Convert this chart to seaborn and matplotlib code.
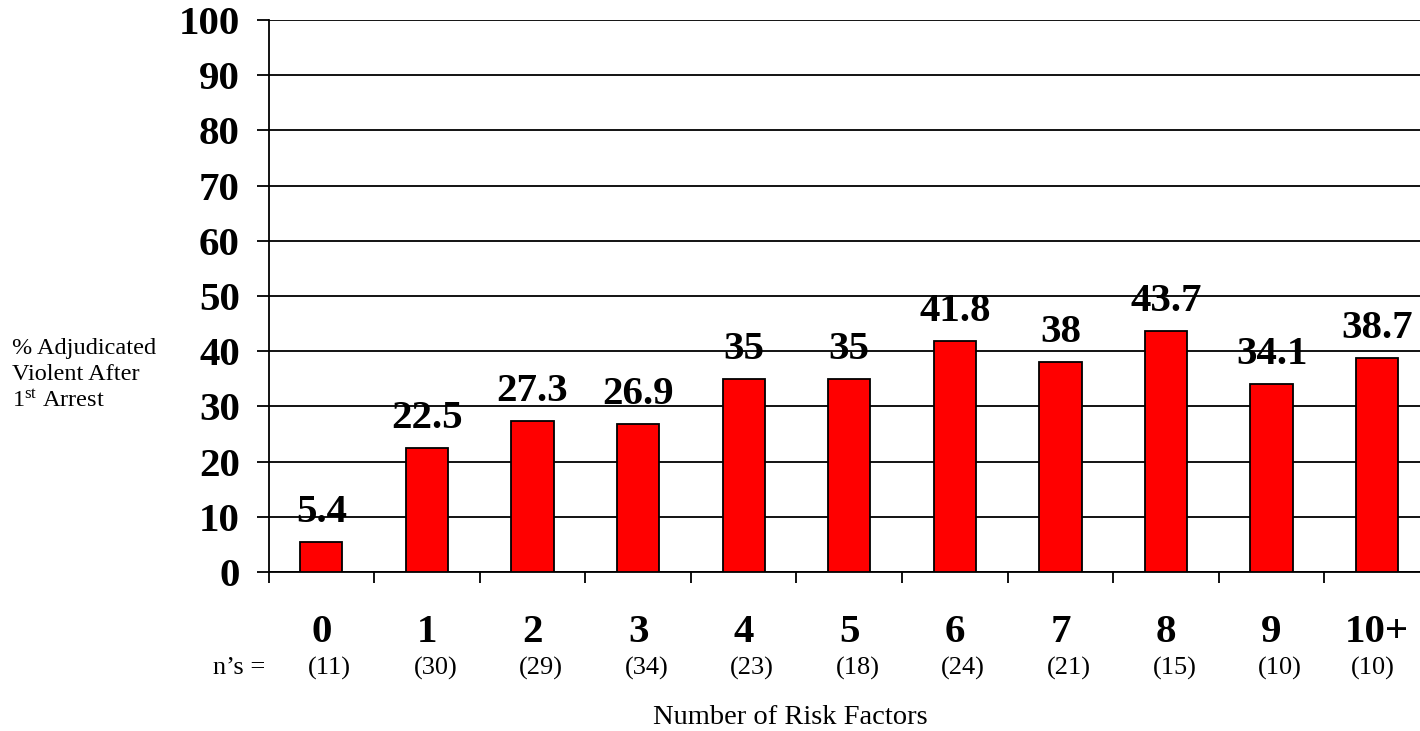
import matplotlib
matplotlib.use("Agg")
import matplotlib.pyplot as plt
import matplotlib.transforms as mtransforms
import numpy as np
import pandas as pd
import seaborn as sns

# Share of youths adjudicated violent after first arrest, by risk-factor count
risk_factors = ["0", "1", "2", "3", "4", "5", "6", "7", "8", "9", "10+"]
pct_violent = [5.4, 22.5, 27.3, 26.9, 35, 35, 41.8, 38, 43.7, 34.1, 38.7]
group_sizes = [11, 30, 29, 34, 23, 18, 24, 21, 15, 10, 10]
y_ticks = list(range(0, 101, 10))

df = pd.DataFrame({"factors": risk_factors, "pct": pct_violent})

sns.set_theme(style="white")
plt.rcParams["font.family"] = ["Liberation Serif", "DejaVu Serif"]
plt.rcParams["mathtext.fontset"] = "custom"
plt.rcParams["mathtext.rm"] = "Liberation Serif"
plt.rcParams["mathtext.it"] = "Liberation Serif:italic"
plt.rcParams["mathtext.bf"] = "Liberation Serif:bold"
plt.rcParams["text.color"] = "black"

BOLD_SIZE = 29.5
SMALL_SIZE = 19

W, H = 1420, 731
fig = plt.figure(figsize=(W / 100, H / 100), dpi=100)
fig.patch.set_facecolor("white")
ax_left, ax_right, ax_top, ax_bottom = 268.5, 1430, 20, 572
ax = fig.add_axes([ax_left / W, (H - ax_bottom) / H,
                   (ax_right - ax_left) / W, (ax_bottom - ax_top) / H])

sns.barplot(data=df, x="factors", y="pct", order=risk_factors, ax=ax,
            color="#ff0000", saturation=1, width=0.4,
            edgecolor="black", linewidth=1.3, zorder=3)

ax.set_ylim(0, 100)
ax.set_xlim(-0.5, len(risk_factors) - 0.5)
ax.set_axisbelow(True)
ax.set_yticks(y_ticks)
ax.set_yticklabels([str(t) for t in y_ticks], fontsize=BOLD_SIZE,
                   fontweight="bold")
ax.yaxis.grid(True, color="black", linewidth=1.3)
ax.xaxis.grid(False)

for side in ("top", "right"):
    ax.spines[side].set_visible(False)
for side in ("left", "bottom"):
    ax.spines[side].set_color("black")
    ax.spines[side].set_linewidth(1.3)

ax.tick_params(axis="y", which="major", direction="out", length=8.6,
               width=1.3, color="black", labelcolor="black", pad=12,
               left=True)

# category labels centred, boundary ticks between categories
ax.set_xticks(np.arange(len(risk_factors)))
ax.set_xticklabels(risk_factors, fontsize=BOLD_SIZE, fontweight="bold")
ax.set_xticks(np.arange(len(risk_factors) + 1) - 0.5, minor=True)
ax.tick_params(axis="x", which="major", length=0, pad=30, bottom=True,
               labelcolor="black")
ax.tick_params(axis="x", which="minor", direction="out", length=8,
               width=1.3, color="black", bottom=True)

# value labels above each bar
for i, v in enumerate(pct_violent):
    ax.annotate(f"{v:g}", xy=(i, v), xytext=(0, 14.4),
                textcoords="offset points", ha="center", va="baseline",
                fontsize=BOLD_SIZE, fontweight="bold", color="black")

# group sizes under the category labels
blend = mtransforms.blended_transform_factory(ax.transData, ax.transAxes)
n_nudge = [0.08] * 10 + [-0.04]
n_y = (ax_bottom - 668) / (ax_bottom - ax_top)
for i, n in enumerate(group_sizes):
    ax.text(i + n_nudge[i], n_y, f"({n})", transform=blend,
            ha="center", va="center", fontsize=SMALL_SIZE, color="black")
ax.text((265 - ax_left) / (ax_right - ax_left), n_y, "n\u2019s =",
        transform=ax.transAxes, ha="right", va="center",
        fontsize=SMALL_SIZE, color="black")

ax.set_ylabel("% Adjudicated\nViolent After\n1$^{\\mathrm{st}}$ Arrest",
              rotation=0, fontsize=17.5, color="black",
              ha="left", va="center", multialignment="left", linespacing=1.3)
ax.yaxis.set_label_coords((12 - ax_left) / (ax_right - ax_left),
                          (ax_bottom - 375) / (ax_bottom - ax_top))

ax.set_xlabel("Number of Risk Factors", fontsize=20.5, color="black")
ax.xaxis.label.set_va("center")
ax.xaxis.set_label_coords((790 - ax_left) / (ax_right - ax_left),
                          (ax_bottom - 717) / (ax_bottom - ax_top))

fig.savefig("out.png", dpi=100, facecolor="white")
